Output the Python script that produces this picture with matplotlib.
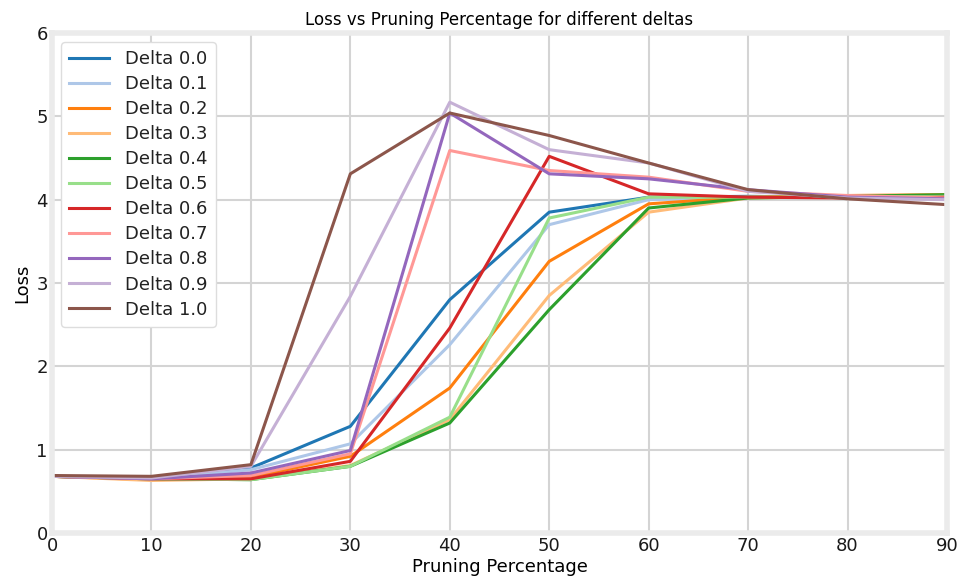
import matplotlib
matplotlib.use("Agg")
import matplotlib.pyplot as plt

pruning = [0, 10, 20, 30, 40, 50, 60, 70, 80, 90]
deltas = ["0.0", "0.1", "0.2", "0.3", "0.4", "0.5", "0.6", "0.7", "0.8", "0.9", "1.0"]

loss_00 = [0.68, 0.65, 0.78, 1.28, 2.80, 3.85, 4.03, 4.04, 4.03, 4.04]
loss_01 = [0.68, 0.65, 0.76, 1.07, 2.26, 3.70, 4.00, 4.03, 4.03, 4.03]
loss_02 = [0.68, 0.64, 0.67, 0.92, 1.74, 3.26, 3.95, 4.03, 4.05, 4.06]
loss_03 = [0.68, 0.63, 0.65, 0.81, 1.36, 2.85, 3.85, 4.02, 4.04, 4.05]
loss_04 = [0.68, 0.65, 0.64, 0.80, 1.32, 2.68, 3.90, 4.02, 4.04, 4.06]
loss_05 = [0.68, 0.65, 0.64, 0.80, 1.39, 3.78, 4.03, 4.03, 4.03, 4.04]
loss_06 = [0.68, 0.65, 0.65, 0.86, 2.46, 4.52, 4.07, 4.03, 4.02, 4.03]
loss_07 = [0.68, 0.65, 0.69, 0.95, 4.59, 4.35, 4.27, 4.10, 4.05, 4.02]
loss_08 = [0.68, 0.65, 0.72, 0.99, 5.04, 4.31, 4.25, 4.12, 4.03, 4.01]
loss_09 = [0.68, 0.66, 0.80, 2.84, 5.17, 4.60, 4.44, 4.10, 4.02, 4.00]
loss_10 = [0.69, 0.68, 0.82, 4.31, 5.04, 4.77, 4.44, 4.12, 4.01, 3.94]

series = [loss_00, loss_01, loss_02, loss_03, loss_04, loss_05,
          loss_06, loss_07, loss_08, loss_09, loss_10]
colors = plt.get_cmap("tab20").colors

fig = plt.figure(figsize=(9.59, 5.88), dpi=100)
ax = fig.add_axes([52/959, 1 - 533/588, 895/959, 500/588])

for i, (d, ys) in enumerate(zip(deltas, series)):
    ax.plot(pruning, ys, color=colors[i], lw=2.2, label=f"Delta {d}")

ax.set_xlim(0, 90)
ax.set_ylim(0, 6)
ax.set_xticks(range(0, 91, 10))
ax.set_yticks(range(0, 7))
ax.grid(True, color="#d4d4d4", lw=1.5)
ax.set_axisbelow(True)
for s in ax.spines.values():
    s.set_color("#ebebeb")
    s.set_linewidth(4)
ax.tick_params(length=0, labelsize=13, pad=3, labelcolor="#1a1a1a")
ax.set_title("Loss vs Pruning Percentage for different deltas", fontsize=12)
ax.set_xlabel("Pruning Percentage", fontsize=13, labelpad=2)
ax.set_ylabel("Loss", fontsize=13, labelpad=4)
leg = ax.legend(loc="upper left", fontsize=13, frameon=True, framealpha=1,
                edgecolor="#dddddd", handlelength=2.2, handletextpad=0.9,
                labelspacing=0.39, borderaxespad=0.5, borderpad=0.45)
for t in leg.get_texts():
    t.set_color("#222222")

fig.savefig("out.png", dpi=100)
